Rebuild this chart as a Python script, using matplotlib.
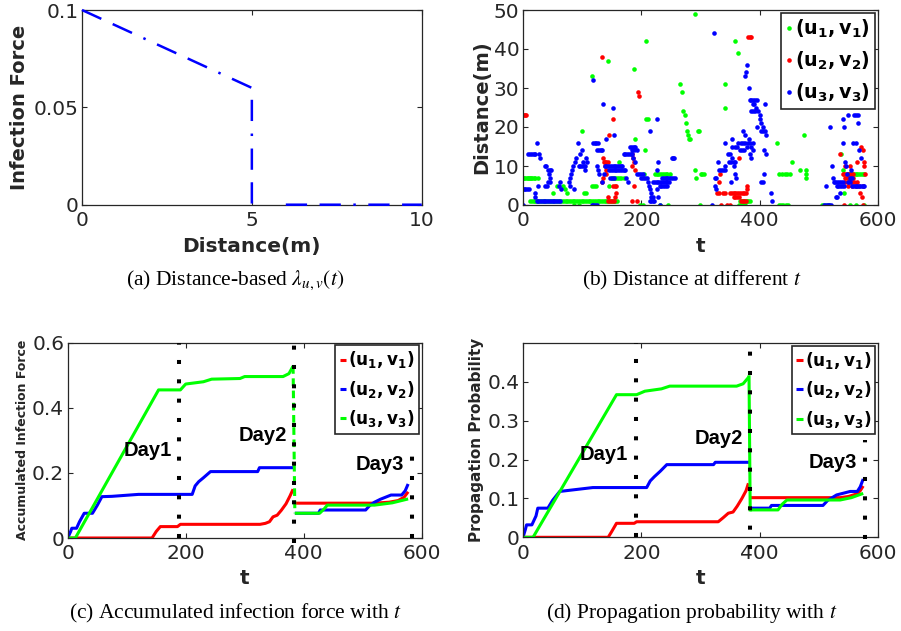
import numpy as np
import matplotlib
matplotlib.use('Agg')
import matplotlib.pyplot as plt

W, H = 901, 631
nan = np.nan

# (a) distance-based infection force
dist = [0, 1, 2, 3, 4, 5, 5, nan, 6, 7, 8, 9, 10]
force = [0.1, 0.092, 0.084, 0.076, 0.068, 0.06, 0, nan, 0, 0, 0, 0, 0]

# (b) distance at different t  (t, distance)
g_t = [0, 2, 4, 6, 8, 10, 12, 14, 16, 18, 20, 26,
       12, 15, 18, 21, 24, 27, 30, 33, 36, 39, 42, 45, 48, 51, 54, 57, 60, 63, 66, 69, 72, 75,
       78, 81, 84, 87, 90, 93, 96, 99, 102, 105, 108, 111, 114, 117, 120, 123, 126, 129, 132,
       135, 138, 141, 144, 147, 150, 153, 156, 159,
       51, 58, 68, 71, 74, 87, 95, 100, 103, 107, 116, 116, 118, 120, 124, 143, 146, 150, 153,
       156, 159, 163, 163, 166, 170, 188, 190, 198, 202, 205, 206, 208, 208, 212,
       223, 226, 229, 232, 235, 238, 241, 244, 248, 231, 245,
       266, 268, 271, 274, 275, 278, 279, 281, 283, 290, 291, 292, 295, 298, 299, 300, 303, 306,
       341, 342, 358, 363, 366, 369, 372, 375, 378, 381, 384, 365, 370, 375,
       430, 432, 437, 442, 447, 452, 454, 432, 436, 440, 444, 448, 469, 475, 478, 478, 478,
       505, 509, 513, 517, 537, 540, 542, 550, 553, 556, 559, 562, 565, 568, 571, 574, 577,
       553, 563, 577]
g_d = [7, 7, 7, 7, 7, 7, 7, 7, 7, 7, 7, 7,
       1, 1, 1, 1, 1, 1, 1, 1, 1, 1, 1, 1, 1, 1, 1, 1, 1, 1, 1, 1, 1, 1,
       1, 1, 1, 1, 1, 1, 1, 1, 1, 1, 1, 1, 1, 1, 1, 1, 1, 1, 1,
       1, 1, 1, 1, 1, 1, 1, 1, 1,
       3, 5, 5, 4, 3, 0, 0, 19, 3, 3, 33, 5, 0, 5, 5, 37, 5, 7, 7,
       7, 7, 11, 7, 7, 7, 35, 17, 0, 0, 8, 14, 42, 22, 22,
       8, 8, 8, 8, 8, 8, 8, 8, 8, 0, 0,
       31, 29, 24, 23, 21, 19, 18, 17, 17, 49, 9, 7, 19, 19, 0, 8, 8, 8,
       31, 25, 42, 39, 1, 1, 1, 1, 1, 1, 1, 0, 0, 0,
       16, 8, 8, 8, 8, 8, 11, 0, 0, 0, 0, 0, 9, 18, 9, 8, 7,
       0, 0, 0, 0, 13, 9, 3, 8, 8, 8, 8, 8, 8, 8, 8, 8, 8,
       0, 0, 0]

r_t = [1, 3, 5,
       133, 133, 135, 136, 137, 139, 141, 143, 139, 141, 140, 146, 152, 152, 155, 157, 157, 156,
       144, 147, 150, 153, 144,
       185, 186, 187, 185, 188, 185, 192, 194, 196, 190,
       328, 331, 333, 332, 335, 338, 342, 344,
       350, 353, 356, 359, 362, 365, 368, 371, 374, 377, 356, 359, 362, 365, 368, 371, 374, 377,
       378, 378, 365, 350, 381, 383, 385,
       536, 540, 543, 546, 549, 552, 555, 558, 543, 545, 553, 545, 549, 553, 557, 545, 550, 555,
       560, 565, 550, 556, 562, 568, 574, 565, 572, 574, 576, 577, 570, 573, 575, 578]
r_d = [23, 23, 23,
       38, 6, 7, 12, 11, 11, 11, 11, 10, 8, 9, 18, 22, 5, 5, 5, 3, 2,
       1, 1, 1, 1, 2,
       13, 12, 11, 10, 5, 1, 1, 29, 28, 9,
       3, 3, 8, 6, 0, 3, 3, 0,
       3, 3, 3, 3, 3, 3, 3, 3, 3, 3, 2, 2, 2, 2, 1, 1, 1, 1,
       4, 5, 12, 0, 43, 43, 43,
       13, 8, 8, 8, 8, 8, 8, 8, 0, 10, 10, 7, 7, 7, 7, 6, 6, 6,
       6, 6, 5, 5, 5, 5, 5, 11, 15, 14, 11, 10, 3, 2, 0, 8]

b_t = [0, 1, 4, 7, 10, 9, 12, 15, 18, 20, 23, 20, 21, 25, 27, 29,
       23, 26, 29, 32, 35, 38, 41, 44, 47, 50, 53, 56, 59, 62,
       37, 39, 42, 45, 48, 44, 46, 38, 41, 43, 45, 62, 60, 65,
       79, 81, 83, 85, 88, 90, 93, 96, 99, 86, 77, 80,
       94, 97, 100, 103, 105, 101, 104, 107, 108,
       118, 121, 124, 127, 118, 125, 128, 131, 134, 125, 127, 128, 116, 119, 122, 125,
       135, 141, 152, 153,
       138, 141, 144, 147, 150, 153, 156, 159, 162, 165, 168,
       146, 149, 152, 155, 158, 161, 164, 167, 170, 173, 137, 147, 150, 153, 134,
       170, 173, 176, 179, 182, 185, 181, 184, 187, 190, 185, 188, 192, 186, 189, 174, 177,
       193, 196, 199, 202, 200, 203, 206, 209, 212, 213, 214, 216, 217, 220, 214, 217, 220, 222,
       215, 226, 228, 227,
       220, 223, 226, 229, 232, 235, 238, 241, 244, 247, 231, 234, 237, 240, 243, 226, 229,
       235, 238, 241, 244, 247, 250, 254, 257, 251, 253, 256, 231,
       319, 323, 324, 327, 324, 326, 330, 332, 335, 338, 341, 342,
       341, 347, 350, 353, 348, 352, 356, 358, 354, 353, 356, 358, 352, 360,
       358, 362, 366, 370, 374, 378, 364, 368, 372, 376, 380, 384, 388,
       372, 375, 382, 385, 388, 386, 384, 375, 377, 379, 382,
       383, 386, 389, 392, 395, 388, 391, 394, 386, 389, 392, 397,
       400, 401, 403, 406, 409, 411, 403, 406, 409, 396,
       408, 410, 408, 402, 406, 419, 420,
       509, 512, 515, 518, 521, 512, 519, 522, 524,
       525, 528, 531, 534, 537, 540, 530, 533, 536, 539, 542, 535, 529, 531,
       541, 543, 540, 545, 546, 548, 549, 555, 557, 560, 563, 566, 566, 563, 568, 572,
       550, 553, 556, 559, 562, 565, 568, 571, 574, 577, 552, 556]
b_d = [0, 4, 4, 4, 4, 13, 13, 13, 13, 13, 16, 3, 2, 5, 13, 12,
       1, 1, 1, 1, 1, 1, 1, 1, 1, 1, 1, 1, 1, 1,
       10, 10, 9, 9, 9, 8, 7, 5, 5, 6, 6, 6, 5, 4,
       7, 8, 9, 10, 11, 12, 16, 13, 14, 4, 6, 5,
       10, 10, 10, 10, 10, 11, 9, 12, 11,
       16, 16, 16, 16, 32, 14, 14, 14, 14, 10, 9, 8, 0, 0, 0, 0,
       26, 17, 25, 18,
       10, 10, 10, 10, 10, 10, 10, 10, 10, 10, 10,
       9, 9, 9, 9, 9, 9, 9, 9, 9, 9, 8, 7, 7, 7, 6,
       13, 13, 13, 13, 13, 13, 15, 15, 15, 15, 14, 14, 14, 12, 11, 7, 6,
       8, 8, 8, 8, 7, 7, 7, 7, 6, 5, 4, 3, 2, 2, 1, 1, 1, 1,
       19, 22, 11, 9,
       6, 6, 6, 6, 6, 6, 6, 6, 6, 6, 5, 5, 5, 5, 5, 4, 2,
       7, 7, 7, 7, 7, 7, 7, 7, 12, 12, 12, 0,
       0, 44, 7, 7, 5, 4, 11, 9, 9, 9, 9, 10,
       16, 13, 13, 12, 11, 11, 11, 11, 17, 15, 10, 8, 6, 7,
       15, 15, 14, 14, 14, 15, 16, 16, 16, 16, 16, 16, 16,
       19, 18, 17, 15, 14, 12, 13, 33, 34, 36, 30,
       27, 27, 27, 27, 27, 26, 26, 25, 24, 24, 24, 24,
       23, 22, 21, 20, 19, 18, 19, 19, 26, 20,
       14, 13, 8, 6, 6, 3, 1,
       0, 0, 0, 0, 0, 5, 20, 10, 7,
       6, 6, 6, 6, 6, 6, 5, 5, 5, 5, 5, 3, 2, 2,
       22, 20, 16, 11, 10, 8, 23, 9, 16, 23, 23, 23, 21, 16, 14, 12,
       6, 6, 5, 5, 5, 5, 5, 5, 5, 5, 7, 7]

# (c) accumulated infection force, nan marks the day break
c_red_t = [0, 143, 150, 157, 186, 191, 326, 335, 342, 348, 355, 362, 370, 377, 382, nan,
           385, 520, 545, 560, 570, 577]
c_red_y = [0, 0, 0.02, 0.035, 0.035, 0.042, 0.042, 0.045, 0.05, 0.065, 0.07, 0.085, 0.105, 0.13, 0.15, nan,
           0.107, 0.107, 0.11, 0.115, 0.125, 0.142]
c_blue_t = [0, 5, 7, 15, 20, 28, 42, 50, 58, 75, 90, 105, 120, 211, 216, 222, 230, 242, 322, 325, 382, nan,
            385, 425, 428, 505, 512, 520, 530, 548, 566, 572, 577]
c_blue_y = [0, 0.02, 0.03, 0.03, 0.05, 0.076, 0.076, 0.1, 0.127, 0.128, 0.13, 0.132, 0.134, 0.134, 0.16,
            0.173, 0.185, 0.204, 0.204, 0.216, 0.216, nan,
            0.076, 0.076, 0.086, 0.086, 0.1, 0.11, 0.119, 0.132, 0.132, 0.145, 0.166]
c_green_t = [0, 13, 154, 191, 200, 230, 244, 292, 300, 365, 375, 382, nan,
             385, 427, 435, 440, 520, 550, 577]
c_green_y = [0, 0, 0.455, 0.455, 0.473, 0.48, 0.488, 0.49, 0.496, 0.496, 0.505, 0.528, nan,
             0.076, 0.076, 0.09, 0.101, 0.101, 0.108, 0.12]

# (d) propagation probability
d_red_t = [0, 144, 150, 158, 188, 192, 330, 338, 347, 355, 362, 370, 377, 381, nan,
           385, 536, 550, 565, 570, 575]
d_red_y = [0, 0, 0.015, 0.036, 0.036, 0.04, 0.04, 0.05, 0.062, 0.065, 0.08, 0.1, 0.12, 0.139, nan,
           0.102, 0.102, 0.105, 0.112, 0.12, 0.132]
d_blue_t = [0, 4, 6, 15, 22, 25, 42, 50, 62, 90, 118, 209, 215, 222, 232, 243, 322, 325, 382, nan,
            385, 417, 420, 507, 515, 530, 553, 565, 570, 575]
d_blue_y = [0, 0.02, 0.032, 0.032, 0.055, 0.075, 0.075, 0.095, 0.118, 0.123, 0.128, 0.128, 0.145,
            0.156, 0.17, 0.187, 0.187, 0.193, 0.193, nan,
            0.075, 0.075, 0.082, 0.082, 0.095, 0.109, 0.118, 0.118, 0.13, 0.15]
d_green_t = [0, 17, 158, 192, 206, 234, 248, 361, 372, 382, nan,
             384, 431, 438, 446, 536, 555, 575]
d_green_y = [0, 0, 0.367, 0.367, 0.376, 0.382, 0.389, 0.389, 0.395, 0.413, nan,
             0.0705, 0.0705, 0.085, 0.096, 0.096, 0.102, 0.113]

# day separators: t, bottom, top
c_day_t = [188, 384, 584]
c_day_lo = [0, -0.015, 0]
c_day_hi = [0.6, 0.62, 0.29]
d_day_t = [191, 384, 578]
d_day_lo = [0, -0.03, -0.005]
d_day_hi = [0.5, 0.51, 0.25]
day_names = ['Day1', 'Day2', 'Day3']

labels_b = [r'$\mathbf{(u_1,v_1)}$', r'$\mathbf{(u_2,v_2)}$', r'$\mathbf{(u_3,v_3)}$']
labels_cd = [r'$\mathbf{(u_1,v_1)}$', r'$\mathbf{(u_2,v_2)}$', r'$\mathbf{(u_3,v_3)}$']

GREEN, RED, BLUE = '#00ff00', '#ff0000', '#0000ff'
GRAY = '#262626'

plt.rcParams['font.family'] = ['DejaVu Sans']
plt.rcParams['xtick.direction'] = 'in'
plt.rcParams['ytick.direction'] = 'in'
plt.rcParams['xtick.top'] = True
plt.rcParams['ytick.right'] = True
plt.rcParams['xtick.color'] = GRAY
plt.rcParams['ytick.color'] = GRAY
plt.rcParams['axes.edgecolor'] = GRAY
plt.rcParams['axes.linewidth'] = 0.9

fig = plt.figure(figsize=(W / 100, H / 100), dpi=100)


def px_axes(l, t, r, b):
    return fig.add_axes([l / W, 1 - b / H, (r - l) / W, (b - t) / H])


def style(ax, box, ylab, ylab_size, ylab_x, ylab_y, xlab, xlab_y):
    l, t, r, b = box
    ax.tick_params(labelsize=14.5, length=3.5, width=0.8, pad=2.5)
    ax.tick_params(axis='x', pad=4.5)
    ax.set_ylabel(ylab, fontsize=ylab_size, fontweight='bold', color=GRAY)
    ax.set_xlabel(xlab, fontsize=14.5, fontweight='bold', color=GRAY)
    ax.yaxis.set_label_coords((ylab_x - l) / (r - l), (b - ylab_y) / (b - t))
    ax.xaxis.set_label_coords(0.5, (b - xlab_y) / (b - t))
    ax.yaxis.label.set_va('center')
    ax.xaxis.label.set_va('center')


def caption(x, y, s):
    fig.text(x / W, 1 - y / H, s, ha='center', va='center', fontsize=15.5,
             family='Liberation Serif', math_fontfamily='stix', color='black')


def add_legend(ax, size, spacing):
    leg = ax.legend(loc='upper right', bbox_to_anchor=(1.0, 1.0), fontsize=size, handlelength=0.4,
                    handletextpad=0.12, labelspacing=spacing, borderpad=0.25, borderaxespad=0.15,
                    fancybox=False, framealpha=1, edgecolor=GRAY)
    leg.get_frame().set_linewidth(1.2)
    leg.set_zorder(7)
    return leg


# ---------- (a)
box_a = (82, 10, 421.7, 204.7)
ax1 = px_axes(*box_a)
ax1.plot(dist, force, color=BLUE, lw=1.8, dashes=(8.5, 5, 8.5, 5, 1, 5),
         clip_on=False, zorder=3)
ax1.set_xlim(0, 10)
ax1.set_ylim(0, 0.1)
ax1.set_xticks([0, 5, 10])
ax1.set_yticks([0, 0.05, 0.1])
ax1.set_yticklabels(['0', '0.05', '0.1'])
style(ax1, box_a, 'Infection Force', 14, 20, 107.5, 'Distance(m)', 246.7)
caption(235, 280, r'(a) Distance-based $\lambda_{u,v}(t)$')

# ---------- (b)
box_b = (523, 10, 878, 205)
ax2 = px_axes(*box_b)
ax2.plot(g_t, g_d, 'o', color=GREEN, ms=3.3, mew=0, label=labels_b[0])
ax2.plot(r_t, r_d, 'o', color=RED, ms=3.3, mew=0, label=labels_b[1])
ax2.plot(b_t, b_d, 'o', color=BLUE, ms=3.3, mew=0, label=labels_b[2])
ax2.set_xlim(0, 600)
ax2.set_ylim(0, 50)
ax2.set_xticks([0, 200, 400, 600])
ax2.set_yticks([0, 10, 20, 30, 40, 50])
style(ax2, box_b, 'Distance(m)', 14, 481.7, 107.5, 't', 246.7)
add_legend(ax2, 13.8, 0.5)
caption(692, 280, r'(b) Distance at different $t$')


def lines_panel(ax, series, dash_green, day_t, day_lo, day_hi, day_pos):
    for (tt, yy, col, lab) in series:
        ax.plot(tt, yy, color=col, lw=2.2, label=lab, solid_capstyle='butt')
    # green drop between day 2 and day 3
    gt, gy = series[2][0], series[2][1]
    k = [i for i, v in enumerate(gt) if v != v][0]
    ax.plot([gt[k - 1], gt[k + 1]], [gy[k - 1], gy[k + 1]], color=GREEN, lw=2.2,
            linestyle=(0, (2.5, 1.5)) if dash_green else '-')
    for x, lo, hi in zip(day_t, day_lo, day_hi):
        ax.plot([x, x], [lo, hi], color='black', lw=2.9, linestyle=(0, (1, 3.8)),
                dash_capstyle='butt', clip_on=False, zorder=5)
    for name, (x, y) in zip(day_names, day_pos):
        ax.text(x, y, name, ha='center', va='center', fontsize=14.5, fontweight='bold',
                family='Liberation Sans', color='black', zorder=6)
    ax.set_xlim(0, 600)
    ax.set_xticks([0, 200, 400, 600])
    add_legend(ax, 12.2, 0.5)


# ---------- (c)
box_c = (67.7, 342.7, 421.7, 538)
ax3 = px_axes(*box_c)
lines_panel(ax3, [(c_red_t, c_red_y, RED, labels_cd[0]),
                  (c_blue_t, c_blue_y, BLUE, labels_cd[1]),
                  (c_green_t, c_green_y, GREEN, labels_cd[2])],
            True, c_day_t, c_day_lo, c_day_hi,
            [(135, 0.27), (331, 0.316), (529, 0.227)])
ax3.set_ylim(0, 0.6)
ax3.set_yticks([0, 0.2, 0.4, 0.6])
ax3.set_yticklabels(['0', '0.2', '0.4', '0.6'])
style(ax3, box_c, 'Accumulated Infection Force', 9, 22.7, 440, 't', 578)
caption(235, 613, r'(c) Accumulated infection force with $t$')

# ---------- (d)
box_d = (523, 343, 878, 537.3)
ax4 = px_axes(*box_d)
lines_panel(ax4, [(d_red_t, d_red_y, RED, labels_cd[0]),
                  (d_blue_t, d_blue_y, BLUE, labels_cd[1]),
                  (d_green_t, d_green_y, GREEN, labels_cd[2])],
            False, d_day_t, d_day_lo, d_day_hi,
            [(137, 0.212), (331, 0.253), (523, 0.193)])
ax4.set_ylim(0, 0.5)
ax4.set_yticks([0, 0.1, 0.2, 0.3, 0.4])
ax4.set_yticklabels(['0', '0.1', '0.2', '0.3', '0.4'])
style(ax4, box_d, 'Propagation Probability', 11, 476.7, 440, 't', 578)
caption(692, 613, r'(d) Propagation probability with $t$')

fig.savefig('out.png', dpi=100)
